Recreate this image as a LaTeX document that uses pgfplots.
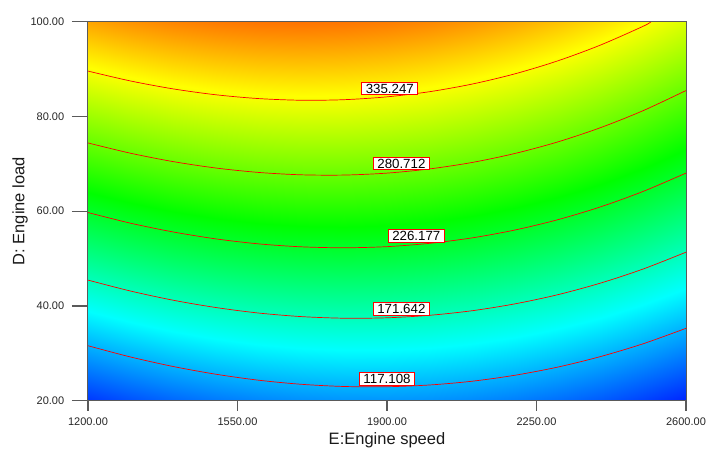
\documentclass[border=0pt]{standalone}
\usepackage{pgfplots}
\pgfplotsset{compat=1.18}
\usepackage{pgfplotstable}
\usepackage{fontspec}
\setmainfont{Liberation Sans}

\definecolor{framegray}{HTML}{5A5A5A}

% Boxed level labels on the contour lines
\tikzset{lvl/.style={draw=red, line width=0.7pt, fill=white, text=black,
    font=\fontsize{13.3}{13.3}\selectfont, inner xsep=4pt, inner ysep=1.6pt,
    text height=9.5pt, text depth=0pt, anchor=south, yshift=1.5pt}}

% Response surface: E = engine speed, D = engine load, R = response
\pgfplotstableread{
E D R
1200 20 70.25
1300 20 80.10
1400 20 88.37
1500 20 95.04
1600 20 100.12
1700 20 103.60
1800 20 105.50
1900 20 105.80
2000 20 104.50
2100 20 101.64
2200 20 97.16
2300 20 91.10
2400 20 83.43
2500 20 74.20
2600 20 63.35
1200 30 110.68
1300 30 120.17
1400 30 128.08
1500 30 134.39
1600 30 139.11
1700 30 142.23
1800 30 143.77
1900 30 143.71
2000 30 142.05
2100 30 138.83
2200 30 133.99
2300 30 127.57
2400 30 119.54
2500 30 109.94
2600 30 98.73
1200 40 150.33
1300 40 159.46
1400 40 167.00
1500 40 172.95
1600 40 177.31
1700 40 180.07
1800 40 181.25
1900 40 180.83
2000 40 178.81
2100 40 175.22
2200 40 170.02
2300 40 163.24
2400 40 154.85
2500 40 144.90
2600 40 133.33
1200 50 189.18
1300 50 197.95
1400 50 205.14
1500 50 210.73
1600 50 214.73
1700 50 217.13
1800 50 217.94
1900 50 217.16
2000 50 214.78
2100 50 210.83
2200 50 205.27
2300 50 198.13
2400 50 189.38
2500 50 179.06
2600 50 167.13
1200 60 227.25
1300 60 235.66
1400 60 242.48
1500 60 247.71
1600 60 251.35
1700 60 253.39
1800 60 253.84
1900 60 252.70
2000 60 249.96
2100 60 245.65
2200 60 239.73
2300 60 232.23
2400 60 223.12
2500 60 212.44
2600 60 200.15
1200 70 264.54
1300 70 272.59
1400 70 279.04
1500 70 283.91
1600 70 287.19
1700 70 288.87
1800 70 288.96
1900 70 287.46
2000 70 284.36
2100 70 279.69
2200 70 273.41
2300 70 265.55
2400 70 256.08
2500 70 245.04
2600 70 232.39
1200 80 301.03
1300 80 308.72
1400 80 314.82
1500 80 319.33
1600 80 322.25
1700 80 323.57
1800 80 323.29
1900 80 321.43
2000 80 317.97
2100 80 312.94
2200 80 306.30
2300 80 298.08
2400 80 288.25
2500 80 276.84
2600 80 263.83
1200 90 336.74
1300 90 344.07
1400 90 349.80
1500 90 353.95
1600 90 356.51
1700 90 357.47
1800 90 356.83
1900 90 354.61
2000 90 350.79
2100 90 345.39
2200 90 338.39
2300 90 329.81
2400 90 319.62
2500 90 307.86
2600 90 294.49
1200 100 371.65
1300 100 378.62
1400 100 383.99
1500 100 387.78
1600 100 389.98
1700 100 390.58
1800 100 389.58
1900 100 387.00
2000 100 382.82
2100 100 377.06
2200 100 369.70
2300 100 360.76
2400 100 350.21
2500 100 338.08
2600 100 324.35
}\surfdata

\begin{document}
\begin{tikzpicture}
\useasboundingbox (0,0) rectangle (720pt,451pt);
\begin{axis}[
  at={(88pt,50.3pt)}, anchor=south west,
  width=598pt, height=379pt, scale only axis,
  xmin=1200, xmax=2600, ymin=20, ymax=100,
  xtick={1200,1550,1900,2250,2600},
  ytick={20,40,60,80,100},
  minor tick num=0,
  tick align=outside,
  xtick pos=bottom, ytick pos=left,
  axis on top,
  axis line style={draw=framegray, line width=1pt},
  major tick style={draw=framegray, line width=1.2pt},
  xtick style={/pgfplots/major tick length=10pt},
  ytick style={/pgfplots/major tick length=16pt},
  scaled ticks=false,
  /pgf/number format/fixed,
  /pgf/number format/fixed zerofill,
  /pgf/number format/precision=2,
  /pgf/number format/1000 sep={},
  /pgf/number format/assume math mode=true,
  ticklabel style={font=\fontsize{11}{13}\selectfont, text=black!85},
  yticklabel style={xshift=-16pt},
  xticklabel style={yshift=-9pt},
  xlabel={E:Engine speed},
  ylabel={D: Engine load},
  label style={font=\fontsize{16.5}{19}\selectfont, text=black!90},
  xlabel style={at={(axis description cs:0.5,-0.1037)}, anchor=center},
  ylabel style={at={(axis description cs:-0.1137,0.5)}, anchor=center},
  colormap={response}{rgb255=(0,0,255) rgb255=(0,255,255) rgb255=(0,255,0) rgb255=(255,255,0) rgb255=(255,0,0)},
  point meta min=50, point meta max=434,
  isoline/.style={draw=red, line width=0.7pt, smooth, no markers},
]
\addplot[surf, shader=interp, mesh/cols=15, point meta=\thisrow{R}]
  table[x=E, y=D] {\surfdata};

\addplot[isoline] coordinates {
 (1200,31.60) (1300,29.22) (1400,27.21) (1500,25.58) (1600,24.32)
 (1700,23.46) (1800,23.00) (1900,22.95) (2000,23.32) (2100,24.12)
 (2200,25.38) (2300,27.10) (2400,29.32) (2500,32.03) (2600,35.28)
} node[lvl, pos=0.5] {117.108};

\addplot[isoline] coordinates {
 (1200,45.46) (1300,43.14) (1400,41.20) (1500,39.66) (1600,38.50)
 (1700,37.75) (1800,37.41) (1900,37.50) (2000,38.03) (2100,39.00)
 (2200,40.45) (2300,42.38) (2400,44.83) (2500,47.81) (2600,51.35)
} node[lvl, pos=0.524] {171.642};

\addplot[isoline] coordinates {
 (1200,59.72) (1300,57.46) (1400,55.61) (1500,54.15) (1600,53.10)
 (1700,52.48) (1800,52.28) (1900,52.52) (2000,53.22) (2100,54.38)
 (2200,56.04) (2300,58.21) (2400,60.92) (2500,64.19) (2600,68.05)
} node[lvl, pos=0.549] {226.177};

\addplot[isoline] coordinates {
 (1200,74.41) (1300,72.23) (1400,70.46) (1500,69.11) (1600,68.18)
 (1700,67.68) (1800,67.63) (1900,68.04) (2000,68.93) (2100,70.30)
 (2200,72.20) (2300,74.63) (2400,77.64) (2500,81.24) (2600,85.47)
} node[lvl, pos=0.524] {280.712};

\addplot[isoline] coordinates {
 (1200,89.58) (1300,87.48) (1400,85.81) (1500,84.57) (1600,83.77)
 (1700,83.42) (1800,83.54) (1900,84.14) (2000,85.23) (2100,86.85)
 (2200,89.01) (2300,91.74) (2400,95.08) (2500,99.05) (2518,100)
} node[lvl, pos=0.536] {335.247};
\end{axis}
\end{tikzpicture}
\end{document}
